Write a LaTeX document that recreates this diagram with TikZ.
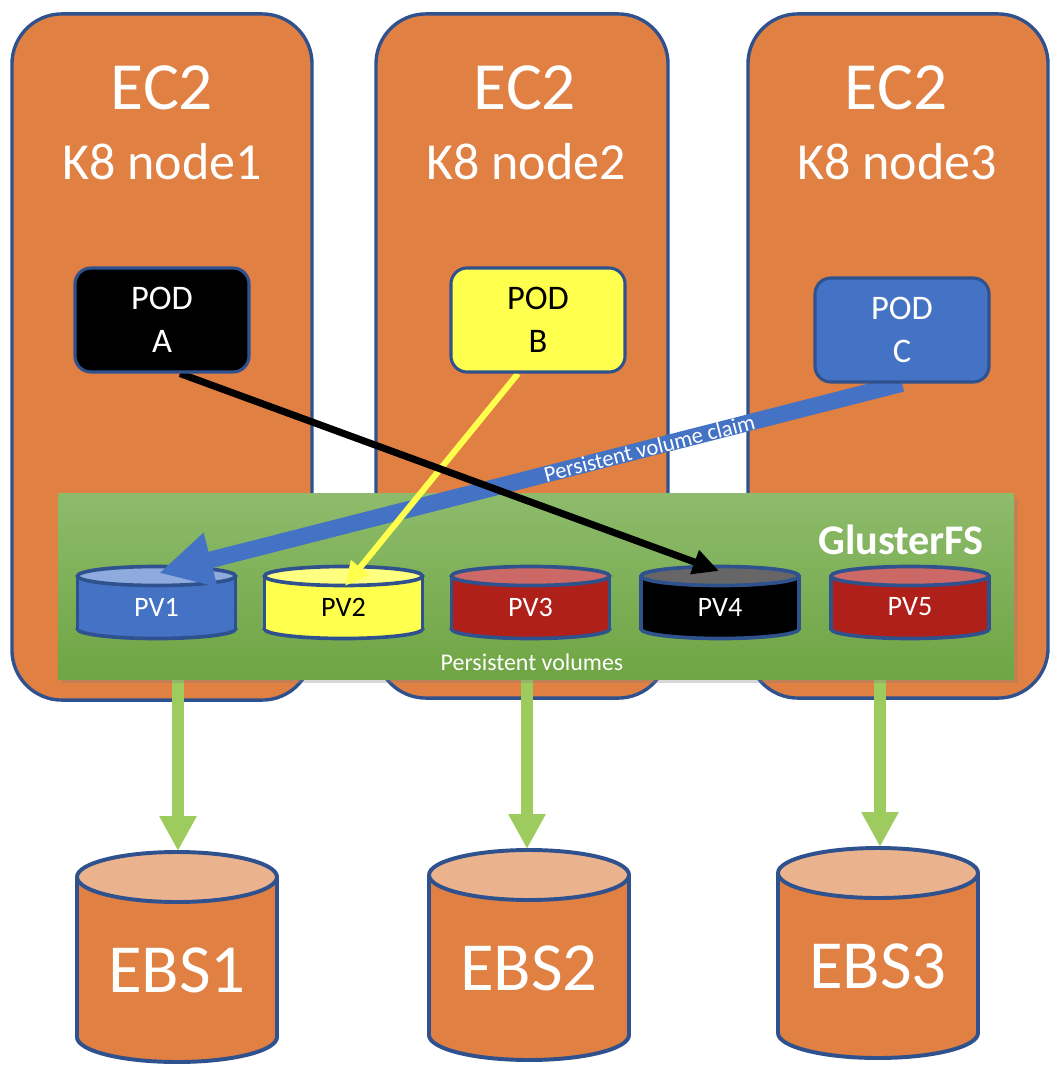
\documentclass[tikz,border=0pt]{standalone}
\usepackage{fontspec}
\setmainfont{Carlito}
\usetikzlibrary{arrows.meta,calc,shadows}
\definecolor{ec2orange}{RGB}{224,128,67}
\definecolor{bordblue}{RGB}{47,82,143}
\definecolor{gtop}{RGB}{141,187,107}
\definecolor{gbot}{RGB}{111,165,68}
\definecolor{arrgreen}{RGB}{158,203,93}
\definecolor{pvblue}{RGB}{68,114,196}
\definecolor{pvbluetop}{RGB}{143,170,220}
\definecolor{pvyellow}{RGB}{255,255,77}
\definecolor{pvyellowtop}{RGB}{255,255,128}
\definecolor{pvred}{RGB}{176,32,26}
\definecolor{pvredtop}{RGB}{204,104,102}
\definecolor{pvblacktop}{RGB}{102,102,102}
\definecolor{ebstop}{RGB}{235,179,141}
\pgfdeclarelayer{bg}\pgfdeclarelayer{mid}\pgfdeclarelayer{arr}
\pgfsetlayers{bg,mid,arr,main}
% #1 xc, #2 half width, #3 y top, #4 y bottom, #5 ry, #6 body colour, #7 top colour, #8 line width
\newcommand\cylshape[8]{%
  \fill[#6] (#1,#4) ellipse ({#2} and {#5});
  \draw[bordblue,line width=#8] (#1,#4) ellipse ({#2} and {#5});
  \fill[#6] ({#1-#2},#3) rectangle ({#1+#2},#4);
  \draw[bordblue,line width=#8] ({#1-#2},#3) -- ({#1-#2},#4) ({#1+#2},#3) -- ({#1+#2},#4);
  \filldraw[bordblue,line width=#8,fill=#7] (#1,#3) ellipse ({#2} and {#5});
}
\begin{document}
\begin{tikzpicture}[x=0.025cm,y=-0.025cm,
  ec2box/.style={draw=bordblue,line width=2.4pt,fill=ec2orange,rounded corners=1.25cm,inner sep=0pt,outer sep=0pt},
  ec2title/.style={text=white,font=\fontsize{48}{56}\selectfont,inner sep=0pt},
  k8title/.style={text=white,font=\fontsize{37}{44}\selectfont,inner sep=0pt},
  pod/.style={draw=bordblue,line width=2.2pt,rounded corners=0.4cm,minimum width=4.35cm,minimum height=2.6cm,align=center,font=\fontsize{24.5}{30.5}\selectfont,inner sep=0pt},
  pvtext/.style={font=\fontsize{20}{24}\selectfont,inner sep=0pt},
  ebstext/.style={text=white,font=\fontsize{49}{56}\selectfont,inner sep=0pt},
  greenarrow/.style={draw=arrgreen,line width=8.5pt,-{Triangle[length=0.875cm,width=0.875cm]}},
]
\useasboundingbox (0,0) rectangle (1060,1072);

% EC2 boxes
\begin{pgfonlayer}{bg}
\fill[white] (0,0) rectangle (1060,1072);
\node[ec2box,minimum width=7.5cm,minimum height=17.15cm] (ec2a) at (162,357) {};
\node[ec2box,minimum width=7.3cm,minimum height=17.1cm] (ec2b) at (522,356) {};
\node[ec2box,minimum width=7.5cm,minimum height=17.1cm] (ec2c) at (898,356) {};
\end{pgfonlayer}

\node[ec2title] (e1) at (162,88) {EC2};
\node[k8title] (k1) at (162,162) {K8 node1};
\node[ec2title] (e2) at (525,88) {EC2};
\node[k8title] (k2) at (526,162) {K8 node2};
\node[ec2title] (e3) at (896,88) {EC2};
\node[k8title] (k3) at (897,162) {K8 node3};

% GlusterFS area
\begin{pgfonlayer}{mid}
\node[inner sep=0pt,outer sep=0pt,minimum width=23.9cm,minimum height=4.625cm,
  top color=gtop,bottom color=gbot,
  drop shadow={shadow xshift=0.1cm,shadow yshift=-0.1cm,opacity=0.3}] (gfs) at (536,586.5) {};
\cylshape{156.5}{79}{576}{629}{9.5}{pvblue}{pvbluetop}{2.6pt}
\cylshape{343.5}{79}{576}{629}{9.5}{pvyellow}{pvyellowtop}{2.6pt}
\cylshape{530.5}{79}{576}{629}{9.5}{pvred}{pvredtop}{2.6pt}
\cylshape{720}{79}{576}{629}{9.5}{black}{pvblacktop}{2.6pt}
\cylshape{910}{79}{576}{629}{9.5}{pvred}{pvredtop}{2.6pt}
\cylshape{177}{100}{877}{1037}{25}{ec2orange}{ebstop}{2.8pt}
\cylshape{529}{100}{875}{1035}{25}{ec2orange}{ebstop}{2.8pt}
\cylshape{878}{100}{873}{1033}{25}{ec2orange}{ebstop}{2.8pt}
\end{pgfonlayer}

\node[text=white,font=\bfseries\fontsize{30}{36}\selectfont,inner sep=0pt] (gname) at (901,540) {GlusterFS};
\node[text=white,font=\fontsize{17}{20}\selectfont,inner sep=0pt] (pvs) at (532,662) {Persistent volumes};

\node[pvtext,text=white] (pv1) at (156.5,607) {PV1};
\node[pvtext,text=black] (pv2) at (343.5,607) {PV2};
\node[pvtext,text=white] (pv3) at (530.5,607) {PV3};
\node[pvtext,text=white] (pv4) at (720,607) {PV4};
\node[pvtext,text=white] (pv5) at (910,607) {PV5};

\node[ebstext] (ebs1) at (177,970) {EBS1};
\node[ebstext] (ebs2) at (529,968) {EBS2};
\node[ebstext] (ebs3) at (878,966) {EBS3};

\coordinate (ebs1top) at (178,851);
\coordinate (ebs2top) at (527,849);
\coordinate (ebs3top) at (880,847);
\coordinate (pv1top) at (159,573);
\coordinate (pv2top) at (345,586);
\coordinate (pv4top) at (719,571);

% pods
\node[pod,fill=black,text=white] (podA) at (162,320) {POD\\A};
\node[pod,fill=pvyellow,text=black] (podB) at (538,320) {POD\\B};
\node[pod,fill=pvblue,text=white] (podC) at (902,330) {POD\\C};

% green arrows to EBS
\begin{pgfonlayer}{bg}
\draw[greenarrow] ($(gfs.south -| ebs1top)+(0,-10)$) -- (ebs1top);
\draw[greenarrow] ($(gfs.south -| ebs2top)+(0,-10)$) -- (ebs2top);
\draw[greenarrow] ($(gfs.south -| ebs3top)+(0,-10)$) -- (ebs3top);
\end{pgfonlayer}

% claims
\begin{pgfonlayer}{arr}
\draw[pvblue,line width=11.8pt,-{Triangle[length=1.33cm,width=1.3cm]}] (podC.south) -- (pv1top)
  node[pos=0.34,sloped,text=white,font=\fontsize{16}{19}\selectfont,inner sep=0pt] (pvc) {Persistent volume claim};
\draw[pvyellow,line width=4.3pt,-{Triangle[length=0.6cm,width=0.55cm]}] ($(podB.south)+(-20,0)$) -- (pv2top);
\draw[black,line width=5pt,-{Triangle[length=0.65cm,width=0.6cm]}] ($(podA.south)+(18,0)$) -- (pv4top);
\end{pgfonlayer}
\end{tikzpicture}
\end{document}
